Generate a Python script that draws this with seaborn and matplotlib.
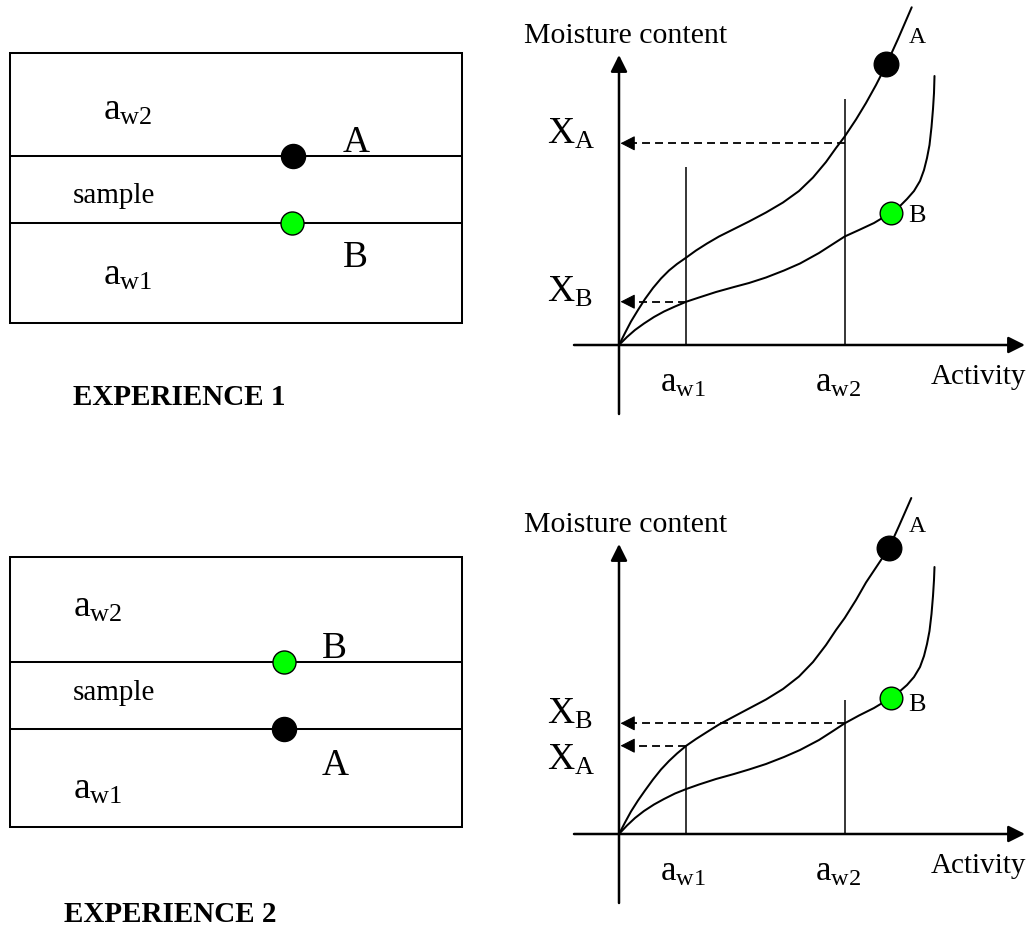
import matplotlib.pyplot as plt
import seaborn as sns
from matplotlib.patches import Rectangle

W, H = 1034, 930

# sorption isotherms (pixels from the chart origin)
act_a1 = [0, 6, 12, 19, 26, 34, 42, 50, 58, 67.3, 77, 88, 100, 114, 130, 147, 164, 180,
          194, 207, 217, 225.7, 237, 247, 257, 266.7, 279, 292.7]
moist_a1 = [0, 12, 23.5, 35, 46, 57, 66.5, 74.5, 81, 87.5, 94.5, 101.5, 108.5, 115.5, 123.5,
            132.5, 142.5, 154, 167.5, 183, 197, 208.5, 225.5, 242, 260, 279, 306, 337.7]
act_b1 = [0, 8, 16, 25, 35, 45, 56, 67.3, 80, 97, 115, 130, 147, 165, 181, 200, 214, 225.7,
          240, 255, 265, 272, 280, 288, 295, 301, 305, 308, 310.5, 312.5, 314, 315, 315.5]
moist_b1 = [0, 8, 15, 21.5, 28, 33.5, 38.5, 43.3, 47.5, 53, 58, 62, 67.5, 74.5, 81.5, 92,
            101, 108.5, 115, 122, 128, 132.3, 138, 146, 154, 164, 175, 187, 200, 218, 236,
            252, 269]

act_a2 = [0, 6, 12, 19, 26, 34, 42, 50, 58, 67.3, 77, 88, 100, 114, 130, 147, 164, 180,
          194, 207, 217, 225.7, 237, 247, 258, 270, 280, 292.3]
moist_a2 = [0, 11.5, 22.5, 33.5, 43.5, 54.5, 64.5, 73, 80.5, 88.3, 95, 102, 109.5, 117,
            125.5, 134.5, 145, 157.5, 172, 189, 204, 216, 234, 251.5, 268, 286, 308, 336]
act_b2 = [0, 8, 16, 25, 35, 45, 56, 67.3, 80, 97, 115, 130, 147, 165, 181, 200, 214, 225.7,
          240, 255, 265, 271.7, 280, 288, 295, 301, 305, 308, 310.5, 312.5, 314, 315, 315.5]
moist_b2 = [0, 8.5, 16, 23, 29.5, 35, 40.5, 45, 49.5, 55, 60, 64.5, 70, 77, 84, 94, 103,
            110.7, 118.5, 126, 132, 136, 142, 149, 157, 167, 178, 190, 203, 220, 238, 254, 267]

# equilibrium points A (black) and B (green) on the curves
dot_a = [(266.7, 281), (270, 286)]
dot_b = [(272, 132.3), (271.7, 136)]

# water activities and the top of their vertical lines
aw1, aw2 = 67.3, 225.7
aw_tops = [(178.3, 246), (88.3, 134)]

# moisture contents read at the arrows: (X_A, from aw), (X_B, from aw)
x_a = [(201.7, aw2), (88.3, aw1)]
x_b = [(43.3, aw1), (110.7, aw2)]
xa_label_y = [201.7, 64.8]
xb_label_y = [43.3, 110.7]

# left boxes: top, upper interface, lower interface, bottom (pixels)
box_x = (10, 462)
box_y = [(53, 156, 223, 323), (557, 662, 729, 827)]
box_dot_a = [(293, 156), (284, 729)]
box_dot_b = [(292, 223), (284, 662)]
box_lab_a = [(343, 151.7), (321.7, 775)]
box_lab_b = [(343, 267.3), (321.7, 658.3)]
box_text_x = [(103, 73), (72.7, 72.7)]
box_text_y = [(120, 202.7, 285, 405), (616.7, 700, 798.3, 921.7)]
title_x = [73, 64.3]
titles = ['EXPERIENCE 1', 'EXPERIENCE 2']

chart_origin_y = [345, 834]

sns.set_theme(style='white')
plt.rcParams['font.family'] = ['Liberation Serif', 'DejaVu Serif']
plt.rcParams['text.color'] = 'black'
plt.rcParams['mathtext.fontset'] = 'custom'
plt.rcParams['mathtext.rm'] = 'Liberation Serif'
plt.rcParams['mathtext.it'] = 'Liberation Serif:italic'
plt.rcParams['mathtext.bf'] = 'Liberation Serif:bold'

GREEN = '#00ff00'


def sub(base, s):
    return r'$\mathregular{' + base + '_{' + s + '}}$'


def arrow(ax, tip, tail, hl, hw, lw):
    ax.annotate('', xy=tip, xytext=tail,
                arrowprops=dict(arrowstyle=f'-|>,head_length={hl},head_width={hw}',
                                mutation_scale=20, lw=lw, color='black',
                                shrinkA=0, shrinkB=0))


fig = plt.figure(figsize=(W / 100, H / 100), dpi=100)
bg = fig.add_axes([0, 0, 1, 1])
bg.set_xlim(0, W)
bg.set_ylim(H, 0)
bg.axis('off')

# left side: the sample between two atmospheres
for i in range(2):
    top, l1, l2, bottom = box_y[i]
    bg.add_patch(Rectangle((box_x[0], top), box_x[1] - box_x[0], bottom - top,
                           fill=False, ec='black', lw=1.45))
    bg.hlines([l1, l2], box_x[0], box_x[1], color='black', lw=1.45)
    sns.scatterplot(x=[box_dot_a[i][0]], y=[box_dot_a[i][1]], ax=bg, s=300,
                    color='black', edgecolor='black', linewidth=1, zorder=5, legend=False)
    sns.scatterplot(x=[box_dot_b[i][0]], y=[box_dot_b[i][1]], ax=bg, s=275,
                    color=GREEN, edgecolor='black', linewidth=1, zorder=5, legend=False)
    bg.text(*box_lab_a[i], 'A', fontsize=27, va='baseline')
    bg.text(*box_lab_b[i], 'B', fontsize=27, va='baseline')
    tx_aw, tx_sample = box_text_x[i]
    y_aw2, y_sample, y_aw1, y_title = box_text_y[i]
    bg.text(tx_aw, y_aw2, sub('a', 'w2'), fontsize=27, va='baseline')
    bg.text(tx_sample, y_sample, 'sample', fontsize=21, va='baseline')
    bg.text(tx_aw, y_aw1, sub('a', 'w1'), fontsize=27, va='baseline')
    bg.text(title_x[i], y_title, titles[i], fontsize=21, fontweight='bold', va='baseline')
bg.set_xlabel('')
bg.set_ylabel('')

# right side: the isotherms
curves = [((act_a1, moist_a1), (act_b1, moist_b1)),
          ((act_a2, moist_a2), (act_b2, moist_b2))]

for i in range(2):
    region_top = chart_origin_y[i] - 345
    ax = fig.add_axes([560 / W, 1 - (region_top + 430) / H, 474 / W, 430 / H])
    ax.set_xlim(-59, 415)
    ax.set_ylim(-85, 345)
    ax.axis('off')
    ax.patch.set_alpha(0)

    arrow(ax, (406, 0), (-45, 0), 0.5, 0.25, 1.8)
    arrow(ax, (0, 290), (0, -69), 0.5, 0.25, 1.8)

    ax.vlines([aw1, aw2], 0, aw_tops[i], color='black', lw=1.1)

    for (act, moist) in curves[i]:
        sns.lineplot(x=act, y=moist, ax=ax, color='black', lw=1.45, sort=False,
                     estimator=None, legend=False)

    for (yv, x_from) in (x_a[i], x_b[i]):
        ax.plot([x_from, 14], [yv, yv], color='black', lw=1.3, ls=(0, (4.4, 2.8)))
        arrow(ax, (1.5, yv), (14.5, yv), 0.45, 0.23, 0.8)

    sns.scatterplot(x=[dot_a[i][0]], y=[dot_a[i][1]], ax=ax, s=313, color='black',
                    edgecolor='black', linewidth=1, zorder=5, legend=False)
    sns.scatterplot(x=[dot_b[i][0]], y=[dot_b[i][1]], ax=ax, s=266, color=GREEN,
                    edgecolor='black', linewidth=1, zorder=5, legend=False)

    ax.text(-95, 301.7, 'Moisture content', fontsize=21.5, va='baseline')
    ax.text(312, -39, 'Activity', fontsize=21, va='baseline')
    ax.text(41, -46.7, sub('a', 'w1'), fontsize=25, va='baseline')
    ax.text(196, -46.7, sub('a', 'w2'), fontsize=25, va='baseline')
    ax.text(-71.7, xa_label_y[i], sub('X', 'A'), fontsize=27, va='baseline')
    ax.text(-71.7, xb_label_y[i], sub('X', 'B'), fontsize=27, va='baseline')
    ax.text(290, 301.7, 'A', fontsize=17, va='baseline')
    ax.text(289, 123, 'B', fontsize=19, va='baseline')

fig.savefig('out.png', dpi=100)
